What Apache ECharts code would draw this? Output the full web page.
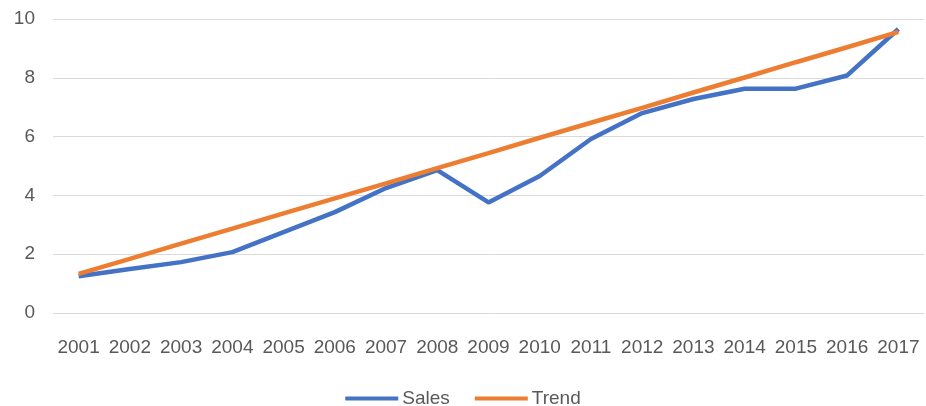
<!DOCTYPE html>
<html><head><meta charset="utf-8">
<script src="https://cdn.jsdelivr.net/npm/echarts@6/dist/echarts.min.js"></script>
<style>html,body{margin:0;padding:0;background:#fff}#c{width:926px;height:406px}</style>
</head><body><div id="c"></div>
<script>
const years = ['2001','2002','2003','2004','2005','2006','2007','2008','2009','2010','2011','2012','2013','2014','2015','2016','2017'];
const sales = [1.25,1.5,1.73,2.07,2.75,3.43,4.25,4.86,3.76,4.66,5.92,6.8,7.28,7.63,7.63,8.08,9.66];
const trend = [1.33,1.84,2.36,2.87,3.39,3.9,4.41,4.93,5.44,5.96,6.47,6.98,7.5,8.01,8.53,9.04,9.56];
const yTicks = {min:0, max:10, interval:2};
const chart = echarts.init(document.getElementById('c'));
const txt = '#595959';
const ff = 'Liberation Sans';
chart.setOption({
  animation:false,
  grid:{left:53, right:2, top:19, bottom:93, containLabel:false},
  legend:{left:'center', top:384, itemWidth:53, itemHeight:4, itemGap:25,
    icon:'rect', textStyle:{color:txt, fontSize:19, fontFamily:ff, padding:[0,0,0,-1]},
    data:['Sales','Trend']},
  xAxis:{type:'category', data:years, boundaryGap:true,
    axisLine:{show:false}, axisTick:{show:false},
    axisLabel:{color:txt, fontSize:19, fontFamily:ff, margin:25, interval:0}},
  yAxis:{type:'value', min:yTicks.min, max:yTicks.max, interval:yTicks.interval,
    axisLine:{show:false}, axisTick:{show:false},
    splitLine:{lineStyle:{color:'#d9d9d9', width:1}},
    axisLabel:{color:txt, fontSize:19, fontFamily:ff, margin:18}},
  series:[
    {name:'Sales', type:'line', data:sales, symbol:'none', lineStyle:{color:'#4472C4', width:4.5}, itemStyle:{color:'#4472C4'}},
    {name:'Trend', type:'line', data:trend, symbol:'none', lineStyle:{color:'#ED7D31', width:4.5}, itemStyle:{color:'#ED7D31'}}
  ]
});
</script></body></html>
